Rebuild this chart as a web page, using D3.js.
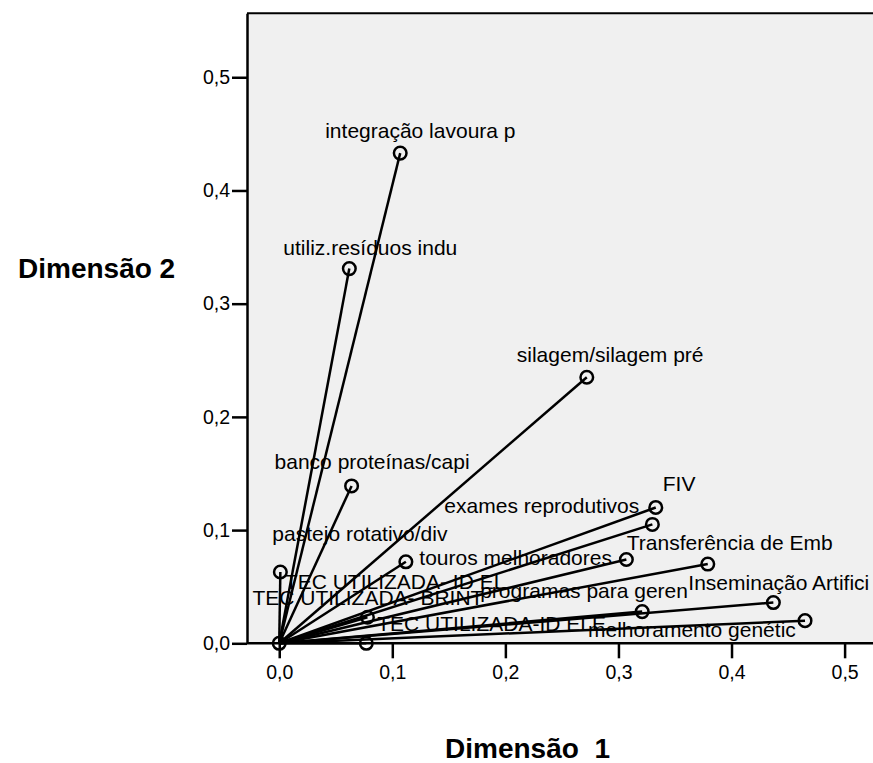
<!DOCTYPE html>
<html>
<head>
<meta charset="utf-8">
<script src="https://cdn.jsdelivr.net/npm/d3@7"></script>
<style>
  html, body { margin: 0; padding: 0; background: #fff; }
  svg { display: block; }
  text { font-family: "Liberation Sans", Arial, sans-serif; }
</style>
</head>
<body>
<svg id="chart" width="873" height="763"></svg>
<script>
// ---- data ----
const variables = [
  "integração lavoura p", "utiliz.resíduos indu", "silagem/silagem pré",
  "banco proteínas/capi", "FIV", "exames reprodutivos", "pastejo rotativo/div",
  "TEC UTILIZADA- ID EL", "touros melhoradores", "Transferência de Emb",
  "TEC UTILIZADA- BRINT", "programas para geren", "Inseminação Artifici",
  "TEC UTILIZADA-ID ELE", "melhoramento genétic"
];
const dim1 = [0.107, 0.062, 0.272, 0.064, 0.333, 0.330, 0.001,
              0.112, 0.307, 0.379, 0.078, 0.321, 0.437, 0.077, 0.465];
const dim2 = [0.433, 0.331, 0.235, 0.139, 0.120, 0.105, 0.063,
              0.072, 0.074, 0.070, 0.023, 0.028, 0.036, 0.000, 0.020];
const xTicks = [0, 0.1, 0.2, 0.3, 0.4, 0.5];
const yTicks = [0, 0.1, 0.2, 0.3, 0.4, 0.5];
const xTitle = "Dimensão  1";
const yTitle = "Dimensão 2";

// label placement (pixel offsets from each point, layout only)
const labelDx = [-75, -66, -70, -77, 7, -208, -8, -121, -207, -81, -115, -162, -85, 11, -217];
const labelDy = [-15, -14, -15, -17, -16, -11, -31, 27, 5, -14, -12, -14, -13, -12, 16];

// ---- layout ----
const svg = d3.select("#chart");
const x = d3.scaleLinear().domain([-0.0285, 0.5375]).range([247, 887]);
const y = d3.scaleLinear().domain([0, 0.5565]).range([643.3, 13.3]);
const fmt = d => d3.format(".1f")(d).replace(".", ",");

const pLeft = x.range()[0], pRight = 873, pTop = y.range()[1], pBottom = y.range()[0];

svg.append("rect")
  .attr("x", pLeft).attr("y", pTop)
  .attr("width", pRight - pLeft + 10).attr("height", pBottom - pTop)
  .attr("fill", "#f0f0f0");

svg.append("defs").append("clipPath").attr("id", "clip")
  .append("rect").attr("x", pLeft).attr("y", pTop - 10)
  .attr("width", pRight - pLeft + 10).attr("height", pBottom - pTop + 20);

const plot = svg.append("g").attr("clip-path", "url(#clip)");

const pts = variables.map((name, i) => ({ name, d1: dim1[i], d2: dim2[i], dx: labelDx[i], dy: labelDy[i] }));

// vectors
plot.selectAll("line.vec").data(pts).join("line")
  .attr("class", "vec")
  .attr("x1", x(0)).attr("y1", y(0))
  .attr("x2", d => x(d.d1)).attr("y2", d => y(d.d2))
  .attr("stroke", "#000").attr("stroke-width", 2.5);

// labels
plot.selectAll("text.lbl").data(pts).join("text")
  .attr("class", "lbl")
  .attr("x", d => x(d.d1) + d.dx).attr("y", d => y(d.d2) + d.dy)
  .attr("font-size", 21).attr("fill", "#000")
  .text(d => d.name);

// markers
plot.selectAll("circle.pt").data(pts).join("circle")
  .attr("class", "pt")
  .attr("cx", d => x(d.d1)).attr("cy", d => y(d.d2))
  .attr("r", 6.3).attr("fill", "none")
  .attr("stroke", "#000").attr("stroke-width", 2.5);

// origin marker
plot.append("circle")
  .attr("cx", x(0)).attr("cy", y(0)).attr("r", 6.3)
  .attr("fill", "none").attr("stroke", "#000").attr("stroke-width", 2.5);

// frame top
svg.append("line").attr("x1", pLeft).attr("x2", pRight + 5)
  .attr("y1", pTop).attr("y2", pTop).attr("stroke", "#000").attr("stroke-width", 2);

// axes
const xAxis = svg.append("g").attr("transform", `translate(0,${pBottom})`)
  .call(d3.axisBottom(x).tickValues(xTicks).tickFormat(fmt).tickSize(15).tickPadding(7).tickSizeOuter(0));
const yAxis = svg.append("g").attr("transform", `translate(${pLeft},0)`)
  .call(d3.axisLeft(y).tickValues(yTicks).tickFormat(fmt).tickSize(15).tickPadding(2).tickSizeOuter(0));

[xAxis, yAxis].forEach(g => {
  g.select(".domain").attr("stroke", "#000").attr("stroke-width", 2.5);
  g.selectAll(".tick line").attr("stroke", "#000").attr("stroke-width", 2.5);
  g.selectAll(".tick text").attr("font-size", 19.5).attr("fill", "#000")
    .attr("font-family", "'Liberation Sans', Arial, sans-serif");
});
xAxis.select(".domain").attr("d", `M${pLeft},0H${pRight + 5}`);

// titles
svg.append("text").attr("x", 445).attr("y", 758)
  .attr("font-size", 28).attr("font-weight", "bold")
  .style("white-space", "pre")
  .text(xTitle);
svg.append("text").attr("x", 18).attr("y", 278)
  .attr("font-size", 28).attr("font-weight", "bold")
  .text(yTitle);
</script>
</body>
</html>
